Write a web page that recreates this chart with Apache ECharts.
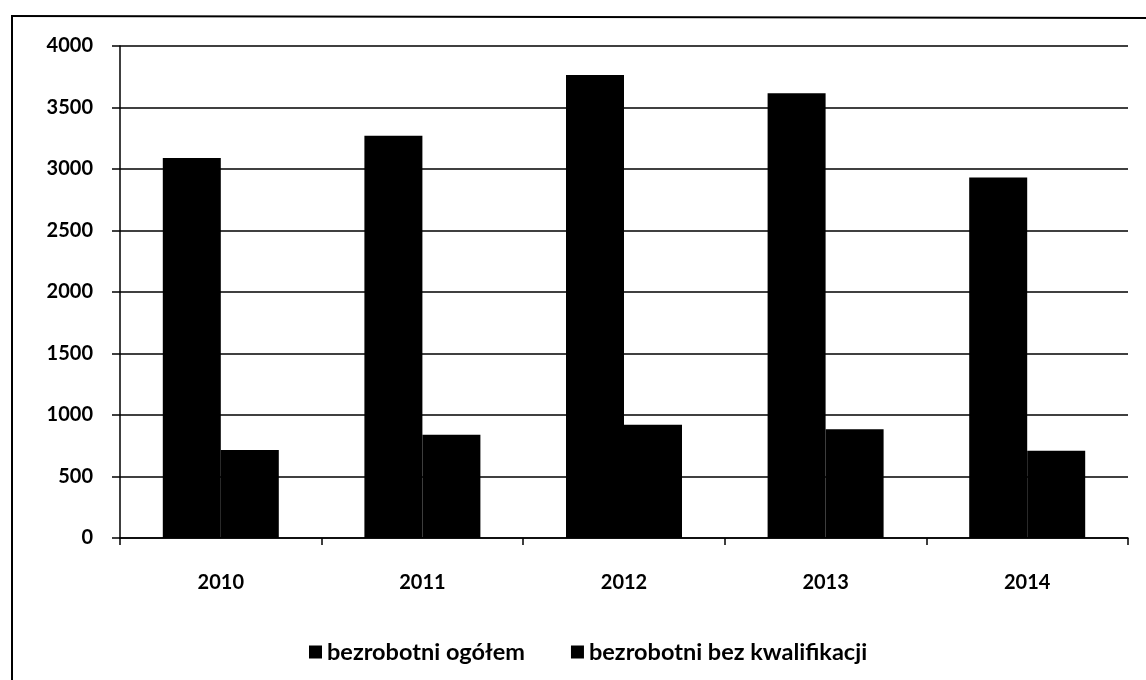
<!DOCTYPE html>
<html>
<head>
<meta charset="utf-8">
<script src="https://cdn.jsdelivr.net/npm/echarts@6/dist/echarts.min.js"></script>
<style>html,body{margin:0;padding:0;background:#fff;}#c{width:1146px;height:680px;}</style>
</head>
<body>
<div id="c"></div>
<script>
const categories = ['2010', '2011', '2012', '2013', '2014'];
const seriesNames = ['bezrobotni ogółem', 'bezrobotni bez kwalifikacji'];
const totalValues = [3090, 3270, 3765, 3615, 2930];
const unqualifiedValues = [715, 840, 920, 885, 710];
const yTicks = [0, 500, 1000, 1500, 2000, 2500, 3000, 3500, 4000];

const FONT = 'Lato';
const chart = echarts.init(document.getElementById('c'), null, {renderer: 'canvas'});
chart.setOption({
  animation: false,
  backgroundColor: '#fff',
  textStyle: {fontFamily: FONT, color: '#000'},
  graphic: [
    {type: 'line', shape: {x1: 11, y1: 16, x2: 1146, y2: 18}, style: {stroke: '#000', lineWidth: 2}},
    {type: 'line', shape: {x1: 12, y1: 15, x2: 12, y2: 680}, style: {stroke: '#000', lineWidth: 2}}
  ],
  legend: {
    top: 635,
    left: 304,
    itemWidth: 13,
    itemHeight: 13,
    itemGap: 46,
    icon: 'rect',
    textStyle: {fontFamily: FONT, fontSize: 23.5, fontWeight: 'bold', color: '#000'},
    data: seriesNames
  },
  grid: {left: 120, right: 18, top: 46, bottom: 142},
  xAxis: {
    type: 'category',
    data: categories,
    axisLine: {lineStyle: {color: '#000', width: 1.5}},
    axisTick: {show: true, length: 7, lineStyle: {color: '#000', width: 1.5}},
    axisLabel: {fontFamily: FONT, fontSize: 20, fontWeight: 'bold', color: '#000', margin: 35}
  },
  yAxis: {
    type: 'value',
    min: 0,
    max: 4000,
    interval: 500,
    axisLine: {show: true, lineStyle: {color: '#000', width: 1.5}},
    axisTick: {show: true, length: 8, lineStyle: {color: '#000', width: 1.5}},
    splitLine: {lineStyle: {color: '#000', width: 1.5}},
    axisLabel: {fontFamily: FONT, fontSize: 20, fontWeight: 'bold', color: '#000', margin: 27,
      formatter: function (v) { return yTicks.indexOf(v) >= 0 ? String(v) : ''; }}
  },
  series: [
    {name: seriesNames[0], type: 'bar', data: totalValues, barWidth: 58, barGap: '0%', itemStyle: {color: '#000'}},
    {name: seriesNames[1], type: 'bar', data: unqualifiedValues, barWidth: 58, barGap: '0%', itemStyle: {color: '#000'}}
  ]
});
</script>
</body>
</html>
